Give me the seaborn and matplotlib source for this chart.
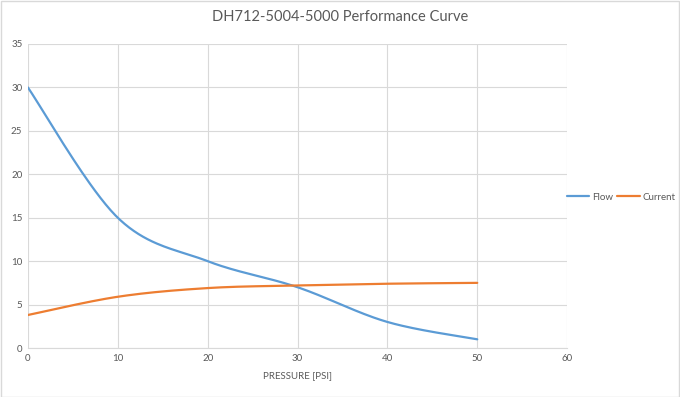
import numpy as np
import pandas as pd
import matplotlib
matplotlib.use("Agg")
import matplotlib.pyplot as plt
import seaborn as sns

# values
pressure = [0, 10, 20, 30, 40, 50]
flow = [30, 15, 10, 7, 3, 1]
current = [3.8, 5.9, 6.9, 7.2, 7.4, 7.5]
x_ticks = [0, 10, 20, 30, 40, 50, 60]
y_ticks = [0, 5, 10, 15, 20, 25, 30, 35]
series_names = ["Flow", "Current"]
palette = {"Flow": "#5B9BD5", "Current": "#ED7D31"}


# excel-style smoothed line (cubic bezier through the data points)
def smooth(xs, ys, n=40):
    p = np.column_stack([xs, ys]).astype(float)
    out = []
    for i in range(len(p) - 1):
        p0 = p[i - 1] if i > 0 else p[i]
        p3 = p[i + 2] if i + 2 < len(p) else p[i + 1]
        c1 = p[i] + (p[i + 1] - p0) / 6
        c2 = p[i + 1] - (p3 - p[i]) / 6
        t = np.linspace(0, 1, n)[:, None]
        seg = (1 - t) ** 3 * p[i] + 3 * (1 - t) ** 2 * t * c1 + 3 * (1 - t) * t ** 2 * c2 + t ** 3 * p[i + 1]
        out.append(seg if i == 0 else seg[1:])
    return np.vstack(out)


frames = []
for name, vals in zip(series_names, [flow, current]):
    c = smooth(pressure, vals)
    frames.append(pd.DataFrame({"pressure": c[:, 0], "value": c[:, 1], "series": name}))
df = pd.concat(frames, ignore_index=True)

sns.set_theme(style="whitegrid")
plt.rcParams["font.family"] = ["Lato", "DejaVu Sans"]

fig = plt.figure(figsize=(6.8, 3.97), dpi=100)
ax = fig.add_axes([0.041, 0.1234, 0.793, 0.7658])
sns.lineplot(data=df, x="pressure", y="value", hue="series", palette=palette, sort=False,
             estimator=None, linewidth=1.6, ax=ax, legend=False)

ax.set_xlim(0, 60); ax.set_ylim(0, 35)
ax.set_xticks(x_ticks); ax.set_yticks(y_ticks)
ax.grid(True, color="#D9D9D9", linewidth=0.8)
ax.set_facecolor("white")
for s in ["top", "right", "left"]: ax.spines[s].set_visible(False)
ax.spines["bottom"].set_color("#D9D9D9"); ax.spines["bottom"].set_linewidth(0.8)
ax.tick_params(axis="both", labelsize=7, colors="#595959", length=0, pad=4)
ax.set_xlabel("PRESSURE [PSI]", fontsize=7, color="#595959", labelpad=6)
ax.set_ylabel("")

fig.text(0.5, 0.957, "DH712-5004-5000 Performance Curve", ha="center", va="center", fontsize=10.5, color="#595959")

handles = [plt.Line2D([], [], color=palette[n], linewidth=1.6) for n in series_names]
leg = fig.legend(handles, series_names, loc="center left", bbox_to_anchor=(0.834, 0.503), ncol=2, frameon=False,
                 fontsize=7, handlelength=2.3, handletextpad=0.3, columnspacing=0.4, borderpad=0, borderaxespad=0)
for t in leg.get_texts(): t.set_color("#595959")

# light chart border like the reference
fig.patches.append(plt.Rectangle((0.001, 0.001), 0.998, 0.997, transform=fig.transFigure, fill=False,
                                 edgecolor="#D9D9D9", linewidth=1))

fig.savefig("out.png", dpi=100)
